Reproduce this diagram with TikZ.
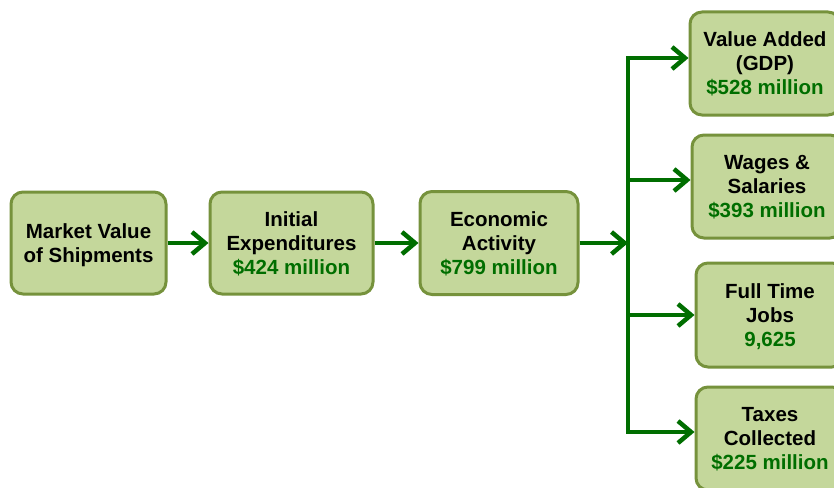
\documentclass[tikz,border=0pt]{standalone}
\usepackage{fontspec}
\setmainfont{Liberation Sans}
\usetikzlibrary{arrows.meta}
\definecolor{boxfill}{RGB}{196,215,155}
\definecolor{boxedge}{RGB}{118,146,60}
\definecolor{linegreen}{RGB}{0,110,0}
\definecolor{textgreen}{RGB}{0,110,0}
\tikzset{
  box/.style={draw=boxedge, fill=boxfill, line width=3pt, rounded corners=12pt,
    inner sep=0pt, align=center, text=black, text depth=0pt,
    font=\bfseries\fontsize{20.5}{24}\selectfont},
  flow/.style={draw=linegreen, line width=4pt,
    -{Straight Barb[length=13pt,width=22pt,line width=4.5pt]}},
  trunk/.style={draw=linegreen, line width=4pt}
}
\newcommand{\val}[1]{\textcolor{textgreen}{#1}}
\begin{document}
\begin{tikzpicture}[x=1pt,y=-1pt]
\clip (0,0) rectangle (834,487);
\fill[white] (0,0) rectangle (834,487);
\node[box, minimum width=155pt, minimum height=102pt] (b1) at (88.5,243) {Market Value\\of Shipments};
\node[box, minimum width=163pt, minimum height=102pt] (b2) at (291.5,243) {Initial\\Expenditures\\\val{\$424 million}};
\node[box, minimum width=158pt, minimum height=103pt] (b3) at (499,243) {Economic\\Activity\\\val{\$799 million}};
\node[box, minimum width=150pt, minimum height=103pt] (ra) at (765,63.5) {Value Added\\(GDP)\\\val{\$528 million}};
\node[box, minimum width=150pt, minimum height=103pt] (rb) at (767,186.5) {Wages \&\\Salaries\\\val{\$393 million}};
\node[box, minimum width=148pt, minimum height=104pt] (rc) at (770,315) {Full Time\\Jobs\\\val{9,625}};
\node[box, minimum width=148pt, minimum height=103pt] (rd) at (770,438.5) {Taxes\\Collected\\\val{\$225 million}};
\coordinate (tm) at (628,243);
\coordinate (ta) at (628,58);
\coordinate (tb) at (628,180);
\coordinate (tc) at (628,315);
\coordinate (td) at (628,432);
\draw[trunk] ([yshift=-2pt]ta) -- ([yshift=2pt]td);
\draw[flow] (b1) -- (b2);
\draw[flow] (b2) -- (b3);
\draw[flow] (b3.east |- tm) -- (tm);
\draw[flow] ([xshift=-2pt]ta) -- (ta -| ra.west);
\draw[flow] (tb) -- (tb -| rb.west);
\draw[flow] (tc) -- (tc -| rc.west);
\draw[flow] ([xshift=-2pt]td) -- (td -| rd.west);
\end{tikzpicture}
\end{document}
